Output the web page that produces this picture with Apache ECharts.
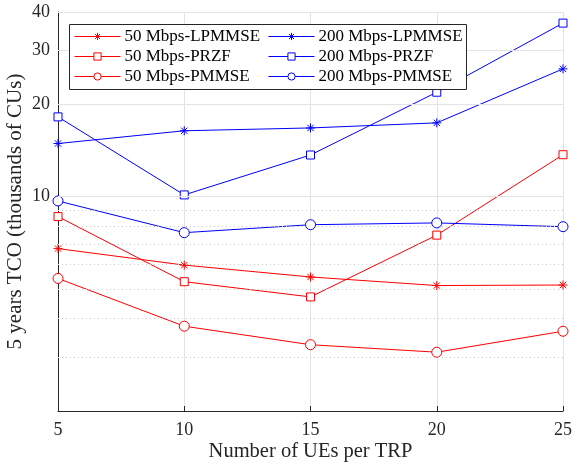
<!DOCTYPE html>
<html>
<head>
<meta charset="utf-8">
<script src="https://cdn.jsdelivr.net/npm/echarts@6/dist/echarts.min.js"></script>
<style>html,body{margin:0;padding:0;background:#fff}#c{width:573px;height:468px}</style>
</head>
<body>
<div id="c"></div>
<script>
var ues = [5, 10, 15, 20, 25];
var lp50 = [6.77, 5.98, 5.47, 5.13, 5.15];
var przf50 = [8.61, 5.28, 4.71, 7.49, 13.7];
var pm50 = [5.41, 3.78, 3.29, 3.11, 3.64];
var lp200 = [14.9, 16.4, 16.75, 17.4, 26.1];
var przf200 = [18.2, 10.13, 13.67, 21.9, 36.8];
var pm200 = [9.68, 7.63, 8.1, 8.21, 7.98];
var yTicks = [10, 20, 30, 40];
var yMinor = [3, 4, 5, 6, 7, 8, 9];
var names = ['50 Mbps-LPMMSE','50 Mbps-PRZF','50 Mbps-PMMSE','200 Mbps-LPMMSE','200 Mbps-PRZF','200 Mbps-PMMSE'];

var FONT = 'Liberation Serif';
var AX = '#262626';
var star = 'path://M5,0L5,10M0,5L10,5M1.5,1.5L8.5,8.5M8.5,1.5L1.5,8.5';

function pairs(v){ return ues.map(function(x,i){ return [x, v[i]]; }); }
function mk(name, vals, color, sym, size){
  return {
    name: name, type: 'line', data: pairs(vals), symbol: sym, symbolSize: size,
    color: color, lineStyle: {color: color, width: 1},
    itemStyle: {color: sym === star ? color : '#fff', borderColor: color, borderWidth: 1},
    emphasis: {disabled: true}, animation: false, z: 3
  };
}
var series = [
  mk(names[0], lp50, '#ff0000', star, 9),
  mk(names[1], przf50, '#ff0000', 'rect', 8),
  mk(names[2], pm50, '#ff0000', 'circle', 10),
  mk(names[3], lp200, '#0000ff', star, 9),
  mk(names[4], przf200, '#0000ff', 'rect', 8),
  mk(names[5], pm200, '#0000ff', 'circle', 10),
  {
    type: 'line', data: [], silent: true, animation: false, z: 1,
    markLine: {
      silent: true, symbol: ['none','none'], label: {show: false}, animation: false,
      data: yMinor.map(function(v){ return {yAxis: v, lineStyle: {color: '#c8c8c8', type: [1,3], width: 1}}; })
        .concat(yTicks.map(function(v){ return {yAxis: v, lineStyle: {color: '#e3e3e3', type: 'solid', width: 1}}; }))
    }
  }
];

function leg(data, left){
  return {
    data: data.map(function(n){ return {name: n}; }),
    orient: 'vertical', left: left, top: 28, padding: 0, itemGap: 3,
    itemWidth: 46, itemHeight: 9, z: 20,
    lineStyle: {width: 1},
    itemStyle: {borderWidth: 1},
    textStyle: {fontFamily: FONT, fontSize: 17, color: '#000', padding: [0,0,0,-1]}
  };
}

var chart = echarts.init(document.getElementById('c'), null, {renderer: 'canvas'});
chart.setOption({
  animation: false,
  backgroundColor: '#fff',
  grid: {left: 58, right: 10, top: 12, bottom: 57, containLabel: false, outerBoundsMode: 'none'},
  xAxis: {
    type: 'value', min: 5, max: 25, interval: 5,
    axisLine: {lineStyle: {color: AX, width: 1}},
    axisTick: {inside: true, length: 5, lineStyle: {color: AX}},
    axisLabel: {color: AX, fontFamily: FONT, fontSize: 18, margin: 10},
    splitLine: {show: true, lineStyle: {color: '#e3e3e3', width: 1}},
    name: 'Number of UEs per TRP', nameLocation: 'middle', nameGap: 30,
    nameMoveOverlap: false,
    nameTextStyle: {color: AX, fontFamily: FONT, fontSize: 20.5}
  },
  yAxis: {
    type: 'log', logBase: 10, min: 2, max: 40,
    axisLine: {show: true, lineStyle: {color: AX, width: 1}},
    axisTick: {show: true, inside: true, length: 5, lineStyle: {color: AX}, customValues: yTicks},
    axisLabel: {color: AX, fontFamily: FONT, fontSize: 18, margin: 8, customValues: yTicks},
    splitLine: {show: false},
    minorTick: {show: false},
    name: '5 years TCO (thousands of CUs)', nameLocation: 'middle', nameGap: 32,
    nameMoveOverlap: false,
    nameTextStyle: {color: AX, fontFamily: FONT, fontSize: 21}
  },
  graphic: [{
    type: 'rect', z: 10, shape: {x: 69.5, y: 24.5, width: 397, height: 65},
    style: {fill: '#fff', stroke: AX, lineWidth: 1}
  }],
  legend: [leg(names.slice(0,3), 74), leg(names.slice(3), 268)],
  series: series
});
</script>
</body>
</html>
